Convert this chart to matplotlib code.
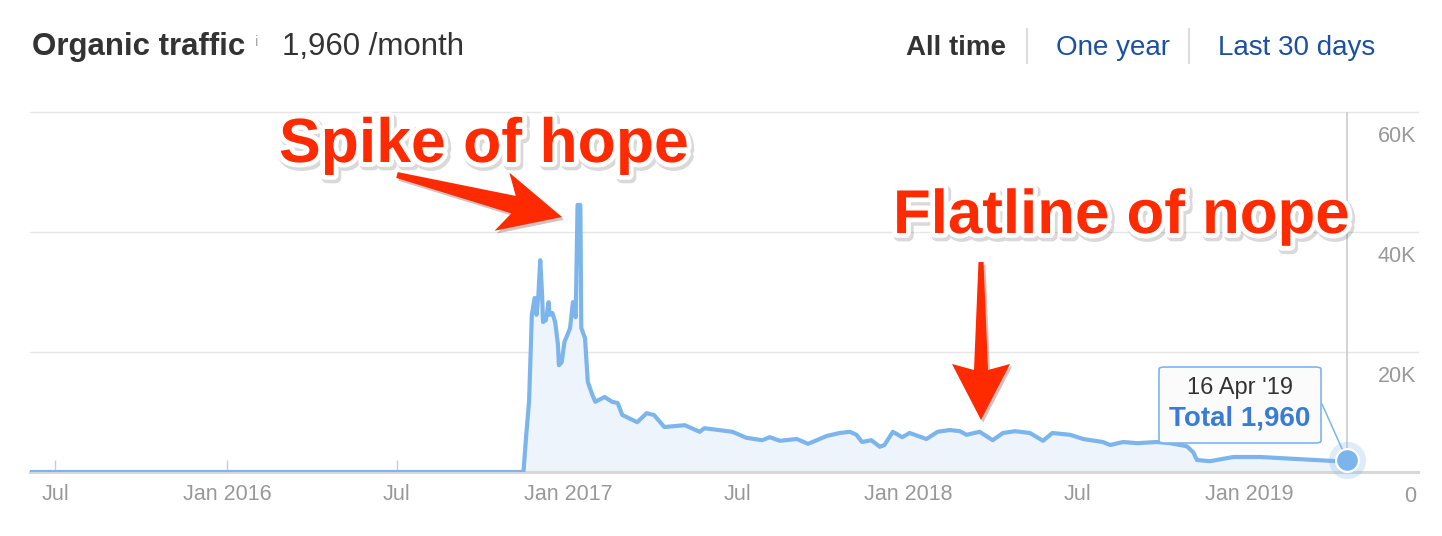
import numpy as np
import pandas as pd
import matplotlib
matplotlib.use('Agg')
import matplotlib.pyplot as plt
import matplotlib.patheffects as pe
from matplotlib.patches import Polygon, FancyBboxPatch
from matplotlib.lines import Line2D
from matplotlib.transforms import ScaledTranslation, blended_transform_factory

plt.rcParams['font.family'] = ['Liberation Sans', 'DejaVu Sans']

# Organic traffic readings
dates = ['2015-06-04', '2016-11-14', '2016-11-17', '2016-11-20', '2016-11-22', '2016-11-23',
         '2016-11-26', '2016-11-28', '2016-11-30', '2016-12-02', '2016-12-04', '2016-12-05',
         '2016-12-08', '2016-12-11', '2016-12-12', '2016-12-15', '2016-12-18', '2016-12-21',
         '2016-12-22', '2016-12-25', '2016-12-28', '2016-12-31', '2017-01-03', '2017-01-06',
         '2017-01-09', '2017-01-11', '2017-01-14', '2017-01-15', '2017-01-19', '2017-01-22',
         '2017-01-27', '2017-01-30', '2017-02-09', '2017-02-17', '2017-02-23', '2017-02-28',
         '2017-03-16', '2017-03-26', '2017-04-03', '2017-04-14', '2017-05-06', '2017-05-22',
         '2017-05-27', '2017-06-26', '2017-07-11', '2017-07-28', '2017-08-05', '2017-08-16',
         '2017-09-03', '2017-09-15', '2017-09-20', '2017-10-05', '2017-10-19', '2017-10-30',
         '2017-11-06', '2017-11-12', '2017-11-22', '2017-12-01', '2017-12-06', '2017-12-15',
         '2017-12-25', '2018-01-02', '2018-01-20', '2018-02-01', '2018-02-14', '2018-02-25',
         '2018-03-04', '2018-03-18', '2018-04-01', '2018-04-12', '2018-04-25', '2018-05-11',
         '2018-05-25', '2018-06-04', '2018-06-23', '2018-07-07', '2018-07-28', '2018-08-05',
         '2018-08-19', '2018-09-03', '2018-09-24', '2018-10-08', '2018-10-26', '2018-11-02',
         '2018-11-06', '2018-11-20', '2018-12-15', '2019-01-13', '2019-02-17', '2019-04-05',
         '2019-04-16']
traffic = [0, 0, 6200, 11700, 21200, 26200,
           29000, 26200, 29500, 35300, 29500, 25000,
           25300, 28300, 26200, 26500, 25000, 21200,
           17800, 18300, 21700, 22800, 24000, 28300,
           25800, 44500, 44500, 24000, 22300, 15000,
           12800, 11700, 12500, 11700, 11500, 9500,
           8300, 9800, 9500, 7500, 7800, 6700,
           7300, 6700, 5700, 5300, 5800, 5200,
           5500, 4700, 5000, 6000, 6500, 6700,
           6200, 5000, 5300, 4200, 4500, 6700,
           5800, 6500, 5500, 6700, 7000, 6800,
           6200, 6700, 5300, 6500, 6800, 6500,
           5200, 6500, 6200, 5500, 5000, 4500,
           5000, 4800, 5000, 4800, 4300, 3300,
           2000, 1800, 2500, 2500, 2200, 1800,
           1960]

x_range = ['2015-06-04', '2019-07-01']
x_tick_dates = ['2015-07-01', '2016-01-01', '2016-07-01', '2017-01-01',
                '2017-07-01', '2018-01-01', '2018-07-01', '2019-01-01']
x_tick_labels = ['Jul', 'Jan 2016', 'Jul', 'Jan 2017', 'Jul', 'Jan 2018', 'Jul', 'Jan 2019']
y_ticks = [0, 20000, 40000, 60000]
y_tick_labels = ['0', '20K', '40K', '60K']

d = pd.to_datetime(dates)
last_date, last_value = d[-1], traffic[-1]

W, H = 1442, 536
fig = plt.figure(figsize=(W / 100, H / 100), dpi=100)
ax = fig.add_axes([30 / W, (H - 472) / H, (1418 - 30) / W, 360 / H])

# series
ax.fill_between(d, traffic, color='#eef4fc', lw=0, zorder=1)
ax.plot(d, traffic, color='#7cb5ec', lw=3.0, solid_joinstyle='round', zorder=3)

ax.set_xlim(pd.to_datetime(x_range[0]), pd.to_datetime(x_range[1]))
ax.set_ylim(0, 60000)

for s in ['top', 'left', 'right']:
    ax.spines[s].set_visible(False)
ax.spines['bottom'].set_color('#d8d8d8')
ax.spines['bottom'].set_linewidth(2.2)
ax.spines['bottom'].set_zorder(2)

ax.set_xticks(pd.to_datetime(x_tick_dates))
ax.set_xticklabels(x_tick_labels)
ax.tick_params(axis='x', direction='in', length=9, width=1, color='#cccccc',
               labelsize=15.5, labelcolor='#999999', pad=9)

ax.set_yticks(y_ticks)
ax.set_yticklabels([])
ax.tick_params(axis='y', length=0)
ax.grid(axis='y', color='#e6e6e6', lw=1)
ax.set_axisbelow(True)
for gl in ax.get_ygridlines():
    gl.set_clip_on(False)

# y labels sit inside on the right, under their gridlines
tr = blended_transform_factory(ax.transAxes, ax.transData) + \
    ScaledTranslation(-2 / 100, -25 / 100, fig.dpi_scale_trans)
for v, lab in zip(y_ticks, y_tick_labels):
    ax.text(1.0, v, lab, transform=tr, ha='right', va='center',
            fontsize=15.5, color='#999999')

# hover crosshair + point
ax.axvline(last_date, color='#cccccc', lw=1.2, zorder=2)
ax.scatter([last_date], [last_value], s=720, color='#7cb5ec', alpha=0.25, lw=0, zorder=4, clip_on=False)
ax.scatter([last_date], [last_value], s=270, color='#7cb5ec', edgecolor='white', lw=1.6, zorder=5, clip_on=False)

# tooltip
box = FancyBboxPatch((1159 / W, 1 - 443 / H), 162 / W, 76 / H,
                     boxstyle='round,pad=0,rounding_size=0.004',
                     transform=fig.transFigure, facecolor='#fbfbfb', edgecolor='#7cb5ec', lw=1.2)
fig.add_artist(box)
ax.annotate('', xy=(last_date, last_value), xycoords='data',
            xytext=(1322, H - 404), textcoords='figure pixels',
            arrowprops=dict(arrowstyle='-', color='#7cb5ec', lw=1.1, shrinkA=0, shrinkB=0))
fig.text(1240 / W, 1 - 388 / H, last_date.strftime("%d %b '%y"), ha='center', va='center',
         fontsize=17, color='#333333')
fig.text(1240 / W, 1 - 419 / H, f'Total {last_value:,}', ha='center', va='center',
         fontsize=20, fontweight='bold', color='#3a7bd5')

# header
fig.text(32 / W, 1 - 47 / H, 'Organic traffic', ha='left', va='center',
         fontsize=22.5, fontweight='bold', color='#333333')
fig.text(255 / W, 1 - 42 / H, 'i', ha='left', va='center', fontsize=11, color='#aaaaaa')
fig.text(282 / W, 1 - 47 / H, f'{last_value:,} /month', ha='left', va='center',
         fontsize=22.5, color='#333333')

fig.text(906 / W, 1 - 48 / H, 'All time', ha='left', va='center',
         fontsize=20, fontweight='bold', color='#333333')
fig.text(1056 / W, 1 - 48 / H, 'One year', ha='left', va='center', fontsize=20, color='#1c50a0')
fig.text(1218 / W, 1 - 48 / H, 'Last 30 days', ha='left', va='center', fontsize=20, color='#1c50a0')
for sx in [1027, 1189]:
    fig.add_artist(Line2D([sx / W, sx / W], [1 - 29 / H, 1 - 63 / H],
                          transform=fig.transFigure, color='#dddddd', lw=1.5))

# red call-outs
red = '#ff2a00'
txt_fx = [pe.Stroke(linewidth=8, foreground='black', alpha=0.15, offset=(1.5, -2)),
          pe.Stroke(linewidth=7, foreground='white'), pe.Normal()]
fig.text(279 / W, 1 - 162 / H, 'Spike of hope', ha='left', va='baseline',
         fontsize=45, fontweight='bold', color=red, path_effects=txt_fx)
fig.text(893 / W, 1 - 233 / H, 'Flatline of nope', ha='left', va='baseline',
         fontsize=44.5, fontweight='bold', color=red, path_effects=txt_fx)


def arrow(x0, y0, x1, y1, w0, w1, neck, head_w, sweep):
    # tapered arrow in image pixels (y down)
    p0 = np.array([x0, H - y0], float)
    tip = np.array([x1, H - y1], float)
    u = (tip - p0) / np.hypot(*(tip - p0))
    n = np.array([-u[1], u[0]])
    nk = tip - u * neck
    bb = tip - u * (neck + sweep)
    pts = [p0 + n * w0 / 2, nk + n * w1 / 2, bb + n * head_w / 2, tip,
           bb - n * head_w / 2, nk - n * w1 / 2, p0 - n * w0 / 2]
    pts = np.array(pts) / [W, H]
    poly = Polygon(pts, closed=True, transform=fig.transFigure, facecolor=red, lw=0,
                   path_effects=[pe.SimplePatchShadow(offset=(1.5, -2), alpha=0.25), pe.Normal()])
    fig.add_artist(poly)


arrow(397, 175, 562, 217, 6, 18, 50, 60, 12)
arrow(981, 262, 981, 420, 5, 14, 50, 58, 6)

fig.savefig('out.png', dpi=100)
